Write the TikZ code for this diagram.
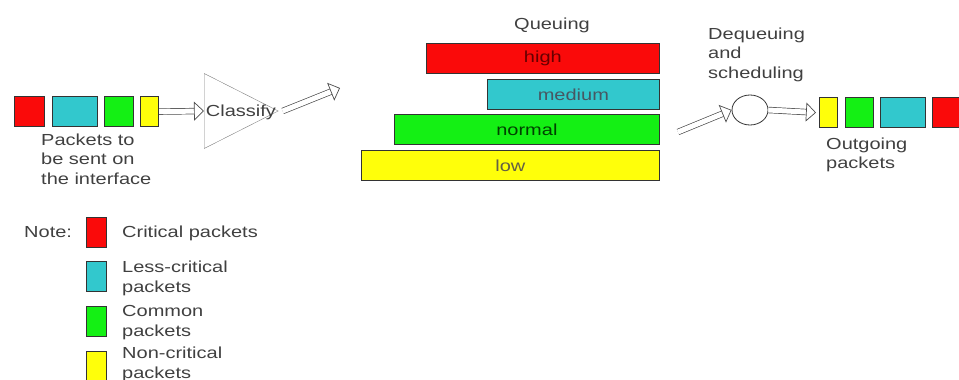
\documentclass[tikz,border=0pt]{standalone}
\usepackage{fontspec}
\setmainfont{Liberation Sans}[FakeStretch=1.25]
\usetikzlibrary{arrows.meta}
\usetikzlibrary{shapes.geometric}

\definecolor{pktred}{RGB}{250,10,10}
\definecolor{pktcyan}{RGB}{50,200,205}
\definecolor{pktgreen}{RGB}{20,240,20}
\definecolor{pktyellow}{RGB}{255,255,10}

\begin{document}
\begin{tikzpicture}[x=1pt, y=-1pt,
    every node/.style={font=\fontsize{16}{19.5}\selectfont, text=black!75},
    packet/.style={draw=black!80, line width=1.2pt, inner sep=0pt,
      anchor=north west, minimum height=30pt},
    queue bar/.style={draw=black!80, line width=1.2pt, inner sep=0pt,
      anchor=north east, minimum height=30pt},
    hollow arrow/.style={draw=white, line width=4pt,
      -{Triangle[color=black!70, fill=white, length=10pt 0, width=19pt 0,
        line width=0.7pt 0]},
      preaction={draw=black!70, line width=0.7pt, double=white,
        double distance=5pt, -, shorten >=9pt}},
    label text/.style={align=left, inner sep=0pt, anchor=base west}]
    \useasboundingbox (0,0) rectangle (959,380);

    % incoming packets
    \node[packet, fill=pktred, minimum width=30pt] (in1) at (14,96) {};
    \node[packet, fill=pktcyan, minimum width=45pt] (in2) at (52,96) {};
    \node[packet, fill=pktgreen, minimum width=29pt] (in3) at (104,96) {};
    \node[packet, fill=pktyellow, minimum width=18pt] (in4) at (140,96) {};
    \node[label text] (intxt) at (41,184)
      {Packets to\\be sent on\\the interface};

    % classifier
    \node[isosceles triangle, isosceles triangle stretches, draw=black!50,
      minimum width=75pt, minimum height=74pt, inner sep=0pt,
      anchor=west] (cls) at (204,111) {};
    \node (clstxt) at (241,112) {Classify};
    \coordinate (cls-out) at (340,88);

    % queues
    \node (qtitle) at (552,25) {Queuing};
    \node[queue bar, fill=pktred, minimum width=233pt, text=red!40!black]
      (q1) at (660,43) {high};
    \node[queue bar, fill=pktcyan, minimum width=172pt, text=cyan!30!black]
      (q2) at (660,79) {medium};
    \node[queue bar, fill=pktgreen, minimum width=265pt, text=green!25!black]
      (q3) at (660,114) {normal};
    \node[queue bar, fill=pktyellow, minimum width=298pt, text=yellow!30!black]
      (q4) at (660,150) {low};

    % scheduler
    \node[label text] (deqtxt) at (708,78) {Dequeuing\\and\\scheduling};
    \coordinate (deq-in) at (678,132);
    \node[ellipse, draw=black!80, line width=0.8pt, minimum width=36pt,
      minimum height=30pt, inner sep=0pt] (sch) at (750,110) {};

    % outgoing packets
    \node[packet, fill=pktyellow, minimum width=18pt] (out1) at (819,97) {};
    \node[packet, fill=pktgreen, minimum width=28pt] (out2) at (845,97) {};
    \node[packet, fill=pktcyan, minimum width=45pt] (out3) at (880,97) {};
    \node[packet, fill=pktred, minimum width=30pt] (out4) at (932,97) {};
    \node[label text] (outtxt) at (826,168.5) {Outgoing\\packets};

    \draw[hollow arrow] (in4.east) -- (cls.west);
    \draw[hollow arrow] ([xshift=4pt]cls.apex) -- (cls-out);
    \draw[hollow arrow] (deq-in) -- (sch.west);
    \draw[hollow arrow] (sch.east) -- ([xshift=-3pt]out1.west);

    % legend
    \node[label text] (note) at (24,237) {Note:};
    \node[packet, fill=pktred, minimum width=20pt] (k1) at (86,217) {};
    \node[packet, fill=pktcyan, minimum width=20pt] (k2) at (86,261) {};
    \node[packet, fill=pktgreen, minimum width=20pt] (k3) at (86,306) {};
    \node[packet, fill=pktyellow, minimum width=20pt] (k4) at (86,351) {};
    \node[label text] (k1txt) at (122,237) {Critical packets};
    \node[label text] (k2txt) at (122,292) {Less-critical\\packets};
    \node[label text] (k3txt) at (122,336) {Common\\packets};
    \node[label text] (k4txt) at (122,378) {Non-critical\\packets};
  \end{tikzpicture}
\end{document}
